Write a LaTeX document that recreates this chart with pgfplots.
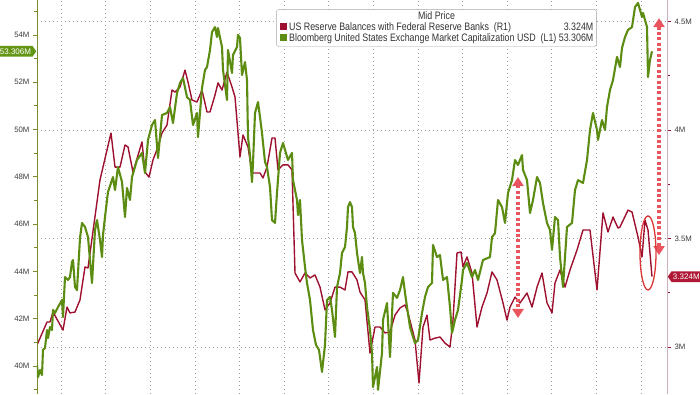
\documentclass[border=0pt]{standalone}
\usepackage{fontspec}
\setmainfont{Liberation Sans}
\newfontfamily\legfont{Liberation Sans}[FakeStretch=0.82]
\usepackage{pgfplots}
\pgfplotsset{compat=1.18}
\usetikzlibrary{shapes.symbols,arrows.meta}
\definecolor{cGreen}{RGB}{92,140,18}
\definecolor{cRed}{RGB}{158,16,48}
\definecolor{axG}{RGB}{120,140,40}
\definecolor{axR}{RGB}{205,175,185}
\definecolor{tickR}{RGB}{150,20,45}
\definecolor{tagG}{RGB}{100,150,22}
\definecolor{tagR}{RGB}{175,25,55}
\definecolor{labc}{RGB}{60,60,60}
\definecolor{arrC}{RGB}{232,85,95}
\definecolor{ellC}{RGB}{220,55,55}
\tikzset{tag/.style={signal, signal pointer angle=110, inner xsep=1.5pt, inner ysep=2.5pt,
    text=white, font=\fontsize{8}{9}\selectfont}}
\begin{document}
\begin{tikzpicture}
\pgfplotsset{
  common/.style={
    at={(0,0)}, anchor=south west, scale only axis, width=630pt, height=394pt,
    xmin=37, xmax=667, clip mode=individual,
    /pgf/number format/assume math mode=true,
    tick align=outside, major tick length=4pt, minor tick length=2.5pt,
    yticklabel style={font=\fontsize{7.8}{9}\selectfont, text=labc},
  },
}
% ---------- red series, right axis ----------
\begin{axis}[common,
  ymin=2.7834, ymax=4.599,
  axis y line*=right, axis x line*=bottom, x axis line style={draw=none},
  y axis line style={draw=axR, line width=0.8pt},
  xtick={61,105.6,150.2,194.8,239.4,284,328.6,373.2,417.8,462.4,507,551.6,596.2,640.8},
  xticklabels={}, xtick style={draw=none}, xmajorgrids,
  ytick={3,3.5,4,4.5}, yticklabels={3M,3.5M,4M,4.5M},
  minor ytick={3.25,3.75,4.25},
  ymajorgrids,
  grid style={gray!75, line width=0.6pt, dash pattern=on 0.8pt off 3.2pt},
  ytick style={draw=tickR, line width=0.8pt},
]
\addplot[cRed, line width=1.4pt, line join=round] table {
37 3.009
47 3.115
50 3.115
53 3.161
63 3.078
67 3.184
70 3.157
75 3.161
80 3.217
85 3.369
88 3.364
100 3.770
111 3.986
115 3.829
120 3.829
125 3.931
128 3.922
133 3.806
142 3.945
145 3.806
149 3.783
153 3.862
158 3.922
162 3.986
167 4.023
172 4.184
175 4.175
180 4.198
185 4.276
188 4.221
192 4.138
197 4.129
202 4.184
207 4.083
210 4.083
215 4.161
218 4.217
222 4.184
227 4.267
232 4.198
235 4.152
240 3.876
243 3.977
248 3.922
252 3.802
260 3.802
263 3.779
267 3.829
272 3.963
275 3.963
278 3.816
283 3.839
288 3.839
292 3.816
295 3.341
300 3.300
305 3.341
310 3.318
315 3.332
320 3.276
325 3.171
330 3.203
335 3.276
340 3.276
345 3.263
348 3.346
352 3.346
357 3.309
360 3.253
365 3.217
370 2.972
375 3.092
380 3.092
385 3.065
390 3.069
395 3.147
400 3.180
405 3.194
408 3.157
415 3.032
419 2.834
423 3.092
427 3.147
430 3.032
435 3.041
440 3.046
445 3.018
450 3.000
453 3.124
457 3.433
461 3.438
463 3.369
467 3.415
472 3.341
477 3.092
482 3.184
487 3.249
492 3.346
497 3.309
503 3.203
507 3.124
510 3.184
515 3.230
520 3.203
527 3.249
532 3.184
537 3.276
542 3.341
547 3.203
552 3.157
555 3.295
560 3.355
565 3.276
570 3.355
577 3.447
583 3.539
590 3.539
597 3.263
603 3.618
608 3.530
613 3.599
618 3.548
620 3.553
628 3.631
632 3.622
638 3.507
642 3.415
645 3.585
648 3.539
652 3.324
};
\node[tag, signal to=west, fill=tagR, anchor=west] at (axis cs:667.5,3.324) {3.324M};
\end{axis}
% ---------- green series, left axis ----------
\begin{axis}[common,
  ymin=38.816, ymax=55.476,
  axis y line*=left, axis x line=none,
  y axis line style={draw=axG, line width=0.8pt},
  ytick={40,42,...,54}, yticklabels={40M,42M,44M,46M,48M,50M,52M,54M},
  minor ytick={39,41,...,55},
  ytick style={draw=axG, line width=0.8pt},
]
\addplot[cGreen, line width=2.1pt, line join=round] table {
37 40.04
38 39.53
40 39.83
42 39.62
43 40.68
45 40.76
47 41.52
48 41.18
50 41.65
52 41.52
53 42.37
55 42.24
58 42.49
62 42.79
63 42.07
65 43.76
68 43.64
70 43.76
72 44.40
73 44.48
75 43.34
77 43.21
80 45.41
82 46.05
85 45.88
88 45.45
90 44.48
92 43.51
95 45.75
97 46.17
100 45.33
102 44.61
103 45.54
105 46.30
108 47.36
113 47.99
115 47.44
118 48.41
122 47.78
125 46.30
127 47.53
130 47.02
132 47.99
137 48.71
142 49.01
145 48.16
148 49.56
152 50.19
155 50.40
158 48.79
162 50.61
167 50.70
170 50.95
173 50.27
177 51.54
180 51.97
183 52.18
187 51.37
190 51.25
193 50.19
197 50.70
198 49.68
202 51.75
205 52.52
207 52.64
210 53.36
212 54.12
215 54.33
217 53.91
218 54.29
222 53.49
223 52.52
227 51.25
228 53.36
232 52.39
233 53.15
237 53.49
238 54.00
240 53.87
242 52.30
245 52.85
247 52.09
248 49.68
250 48.92
252 47.78
253 48.58
255 50.70
258 51.16
260 50.53
262 49.85
265 48.63
267 48.41
270 47.57
272 46.17
275 46.05
277 47.32
280 49.01
283 49.43
288 48.71
292 49.01
293 47.86
297 47.02
298 46.38
300 47.02
302 45.33
305 44.19
307 43.51
310 42.79
313 41.52
316 40.89
319 40.68
322 39.75
325 40.89
327 42.79
330 42.92
332 42.37
335 41.23
337 43.34
340 43.93
342 44.78
345 45.03
347 45.88
348 46.72
350 46.93
352 46.72
353 45.88
355 45.62
357 44.78
360 43.93
362 44.61
363 43.93
365 43.51
367 42.49
370 41.52
372 40.55
373 39.11
377 39.96
378 38.99
382 40.55
383 41.95
387 42.66
390 40.38
393 43.09
397 42.88
400 43.21
403 43.76
405 43.09
407 42.49
410 41.65
413 41.23
415 40.97
418 41.10
422 42.24
425 42.92
428 43.34
432 43.51
433 45.12
437 44.61
440 44.69
443 43.64
447 43.76
450 42.49
452 41.40
455 41.95
458 42.37
462 43.64
463 44.06
467 44.36
472 43.76
475 44.06
478 43.64
483 44.48
488 44.57
490 44.61
492 45.45
495 45.62
498 47.02
502 46.72
505 46.05
508 47.32
512 47.86
515 48.71
518 48.50
522 48.92
523 48.29
527 47.86
530 46.47
533 47.02
537 47.99
540 47.74
543 46.89
547 46.05
550 45.75
552 44.91
555 46.30
558 46.17
560 44.61
563 43.34
567 45.88
572 46.05
575 47.44
578 47.86
583 47.74
587 48.71
590 49.98
593 50.70
597 49.98
598 49.56
602 50.40
605 49.98
607 50.95
610 51.67
613 52.09
617 53.07
620 52.64
622 53.45
625 53.91
628 54.21
632 54.33
635 55.18
638 55.35
642 54.76
643 54.93
647 54.33
648 52.22
650 52.94
652 53.306
};
\node[tag, signal to=east, fill=tagG, anchor=east] at (axis cs:36.5,53.306) {53.306M};
% annotations
\draw[arrC, line width=3.2pt, dash pattern=on 3pt off 2.4pt,
  {Triangle[width=11pt,length=9pt]}-{Triangle[width=11pt,length=9pt]}]
  (axis cs:518,47.99) -- (axis cs:518,42.03);
\draw[arrC, line width=3.2pt, dash pattern=on 3pt off 2.4pt,
  {Triangle[width=11pt,length=9pt]}-{Triangle[width=11pt,length=9pt]}]
  (axis cs:659,54.71) -- (axis cs:659,44.69);
\draw[ellC, line width=1.3pt] (axis cs:648,44.78) ellipse [x radius=8pt, y radius=37pt];
% legend
\node[draw=gray!70, rounded corners=2pt, fill=white, inner xsep=3pt, inner ysep=2pt,
  font=\legfont\fontsize{10.8}{11}\selectfont, text=black!80] at (axis cs:436.5,54.29) {%
  \renewcommand{\arraystretch}{0.95}%
  \begin{tabular}{@{}l@{\hspace{2pt}}l@{}r@{}}
  \multicolumn{3}{c}{Mid Price}\\
  \textcolor{cRed}{\rule{7.5pt}{7.5pt}} & US Reserve Balances with Federal Reserve Banks\ \ (R1) & 3.324M\\
  \textcolor{cGreen}{\rule{7.5pt}{7.5pt}} & Bloomberg United States Exchange Market Capitalization USD\ \ (L1) & \ 53.306M
  \end{tabular}};
\end{axis}
\pgfresetboundingbox
\useasboundingbox (-37pt,0pt) rectangle (663pt,394pt);
\end{tikzpicture}
\end{document}
